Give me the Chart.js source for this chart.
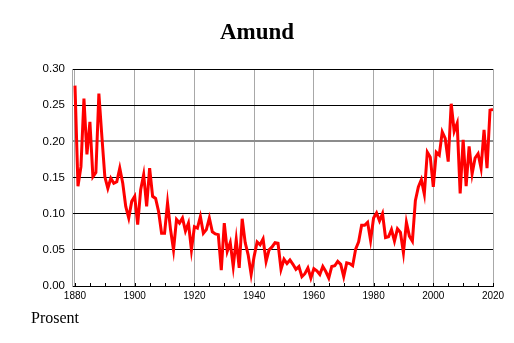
<!DOCTYPE html>
<html>
<head>
<meta charset="utf-8">
<script src="https://cdn.jsdelivr.net/npm/chart.js@4/dist/chart.umd.min.js"></script>
<style>
  html, body { margin: 0; padding: 0; background: #fff; }
  #wrap { width: 514px; height: 343px; position: relative; }
</style>
</head>
<body>
<div id="wrap"><canvas id="c"></canvas></div>
<script>
const chartTitle = 'Amund';
const unitLabel = 'Prosent';
const firstYear = 1880;
const xTickLabels = [1880, 1900, 1920, 1940, 1960, 1980, 2000, 2020];
const xMinorTicks = [1880, 1885, 1890, 1895, 1900, 1905, 1910, 1915, 1920, 1925, 1930, 1935, 1940, 1945,
  1950, 1955, 1960, 1965, 1970, 1975, 1980, 1985, 1990, 1995, 2000, 2005, 2010, 2015, 2020];
const yTickValues = [0, 0.05, 0.10, 0.15, 0.20, 0.25, 0.30];
const percentValues = [
  0.277, 0.138, 0.165, 0.259, 0.182, 0.227, 0.151, 0.157, 0.266, 0.207,
  0.151, 0.135, 0.149, 0.142, 0.144, 0.163, 0.142, 0.110, 0.094, 0.117,
  0.124, 0.085, 0.133, 0.154, 0.110, 0.163, 0.124, 0.121, 0.103, 0.073,
  0.073, 0.115, 0.078, 0.050, 0.092, 0.087, 0.094, 0.076, 0.087, 0.050,
  0.082, 0.080, 0.096, 0.073, 0.078, 0.094, 0.075, 0.072, 0.071, 0.022,
  0.087, 0.048, 0.060, 0.027, 0.064, 0.025, 0.093, 0.060, 0.043, 0.016,
  0.041, 0.061, 0.057, 0.065, 0.034, 0.050, 0.054, 0.060, 0.059, 0.023,
  0.037, 0.031, 0.036, 0.030, 0.023, 0.027, 0.013, 0.017, 0.025, 0.011,
  0.024, 0.021, 0.016, 0.027, 0.020, 0.011, 0.027, 0.028, 0.034, 0.030,
  0.013, 0.032, 0.031, 0.028, 0.051, 0.061, 0.084, 0.084, 0.088, 0.063,
  0.094, 0.101, 0.090, 0.100, 0.067, 0.068, 0.078, 0.062, 0.079, 0.074,
  0.046, 0.088, 0.069, 0.062, 0.118, 0.137, 0.147, 0.127, 0.185, 0.178,
  0.137, 0.185, 0.181, 0.213, 0.204, 0.172, 0.252, 0.214, 0.225, 0.128,
  0.202, 0.138, 0.193, 0.155, 0.177, 0.183, 0.163, 0.216, 0.163, 0.243,
  0.244
];
const years = percentValues.map((_, i) => firstYear + i);

const extrasPlugin = {
  id: 'extras',
  afterDraw(chart) {
    const ctx = chart.ctx;
    const xs = chart.scales.x;
    const bottom = chart.chartArea.bottom;
    ctx.save();
    ctx.strokeStyle = '#000';
    ctx.lineWidth = 1;
    ctx.beginPath();
    xMinorTicks.forEach(v => {
      const px = Math.round(xs.getPixelForValue(v)) + 0.5;
      ctx.moveTo(px, bottom);
      ctx.lineTo(px, bottom - 3);
    });
    ctx.stroke();
    ctx.fillStyle = '#000';
    ctx.font = '16px "Liberation Serif", "Times New Roman", serif';
    ctx.textAlign = 'left';
    ctx.textBaseline = 'alphabetic';
    ctx.fillText(unitLabel, 31, 322.5);
    ctx.restore();
  }
};

new Chart(document.getElementById('c'), {
  type: 'line',
  data: {
    datasets: [{
      data: years.map((y, i) => ({ x: y, y: percentValues[i] })),
      borderColor: '#ff0000',
      borderWidth: 3,
      pointRadius: 0,
      tension: 0,
      fill: false
    }]
  },
  options: {
    responsive: true,
    maintainAspectRatio: false,
    animation: false,
    devicePixelRatio: 1,
    layout: { padding: { left: 21, right: 21, top: 0, bottom: 0 } },
    plugins: {
      legend: { display: false },
      tooltip: { enabled: false },
      title: {
        display: true,
        text: chartTitle,
        color: '#000',
        font: { family: '"Liberation Serif", "Times New Roman", serif', size: 23, weight: 'bold', lineHeight: 1.2 },
        padding: { top: 19, bottom: 22.4 }
      }
    },
    scales: {
      x: {
        type: 'linear',
        min: 1879,
        max: 2020,
        afterFit(s) { s.height = 57; },
        afterBuildTicks(s) { s.ticks = xTickLabels.map(v => ({ value: v })); },
        border: { display: true, color: '#000', width: 1 },
        grid: {
          drawTicks: false,
          lineWidth: 1,
          color: '#a8a8a8'
        },
        ticks: {
          autoSkip: false,
          maxRotation: 0,
          padding: 4,
          color: '#000',
          font: { family: '"Liberation Sans", Arial, sans-serif', size: 10 },
          callback: v => String(v)
        }
      },
      y: {
        min: 0,
        max: 0.30,
        afterFit(s) { s.width = 51; },
        afterBuildTicks(s) { s.ticks = yTickValues.map(v => ({ value: v })); },
        border: { display: true, color: '#a8a8a8', width: 1 },
        grid: {
          drawTicks: false,
          color: ctx => (ctx.tick && Math.abs(ctx.tick.value - 0.20) < 1e-6) ? '#8c8c8c' : '#000',
          lineWidth: ctx => (ctx.tick && Math.abs(ctx.tick.value - 0.20) < 1e-6) ? 2 : 1
        },
        ticks: {
          padding: 7,
          color: '#000',
          font: { family: '"Liberation Sans", Arial, sans-serif', size: 11.5 },
          callback: v => Number(v).toFixed(2)
        }
      }
    }
  },
  plugins: [extrasPlugin]
});
</script>
</body>
</html>
